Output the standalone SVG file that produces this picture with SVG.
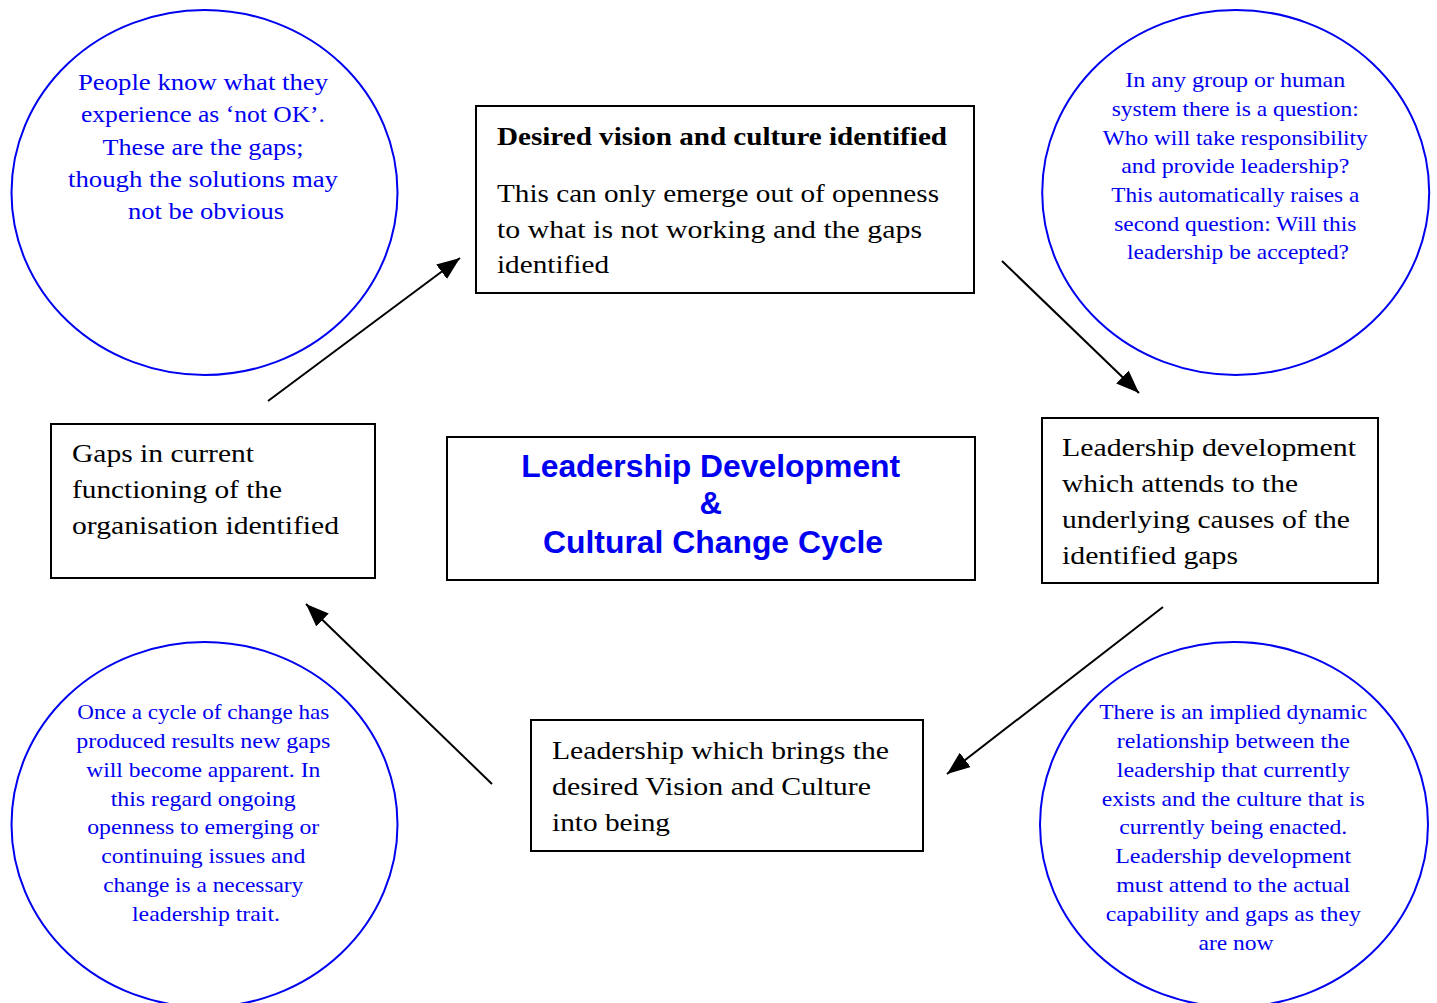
<svg xmlns="http://www.w3.org/2000/svg" width="1437" height="1003" viewBox="0 0 1437 1003">
  <style>
    .box { fill: #ffffff; stroke: #000000; stroke-width: 2; }
    .bubble { fill: #ffffff; stroke: #0000f0; stroke-width: 2; }
    .body { font-family: "Liberation Serif", "Times New Roman", serif; font-size: 26px; fill: #000000; }
    .head { font-family: "Liberation Serif", "Times New Roman", serif; font-size: 26px; font-weight: bold; fill: #000000; }
    .note { font-family: "Liberation Serif", "Times New Roman", serif; font-size: 22px; fill: #0000f0; text-anchor: middle; }
    .note-lg { font-size: 24px; }
    .title { font-family: "Liberation Sans", Arial, sans-serif; font-size: 31px; font-weight: bold; fill: #0000f0; text-anchor: middle; }
    .link { fill: none; stroke: #000000; stroke-width: 2; marker-end: url(#arrow); }
  </style>
  <defs>
    <marker id="arrow" markerUnits="userSpaceOnUse" markerWidth="26" markerHeight="20" refX="23" refY="9" orient="auto">
      <path d="M0,0 L23,9 L0,18 z" fill="#000000"/>
    </marker>
  </defs>

  <rect width="1437" height="1003" fill="#ffffff"/>

  <!-- explanatory bubbles -->
  <g id="note-gaps">
    <ellipse class="bubble" cx="204.5" cy="192.5" rx="193" ry="182.5"/>
    <text class="note note-lg">
      <tspan x="206" y="90" textLength="250" lengthAdjust="spacingAndGlyphs">People know what they</tspan>
      <tspan x="206" y="122.3" textLength="244" lengthAdjust="spacingAndGlyphs">experience as ‘not OK’.</tspan>
      <tspan x="206" y="154.6" textLength="201" lengthAdjust="spacingAndGlyphs">These are the gaps;</tspan>
      <tspan x="206" y="186.9" textLength="270" lengthAdjust="spacingAndGlyphs">though the solutions may</tspan>
      <tspan x="206" y="219.2" textLength="156" lengthAdjust="spacingAndGlyphs">not be obvious</tspan>
    </text>
  </g>

  <g id="note-responsibility">
    <ellipse class="bubble" cx="1235.7" cy="192.5" rx="193.5" ry="182.5"/>
    <text class="note">
      <tspan x="1238" y="87.3" textLength="220" lengthAdjust="spacingAndGlyphs">In any group or human</tspan>
      <tspan x="1238" y="116" textLength="247" lengthAdjust="spacingAndGlyphs">system there is a question:</tspan>
      <tspan x="1238" y="144.6" textLength="265" lengthAdjust="spacingAndGlyphs">Who will take responsibility</tspan>
      <tspan x="1238" y="173.3" textLength="228" lengthAdjust="spacingAndGlyphs">and provide leadership?</tspan>
      <tspan x="1238" y="202" textLength="248" lengthAdjust="spacingAndGlyphs">This automatically raises a</tspan>
      <tspan x="1238" y="230.6" textLength="242" lengthAdjust="spacingAndGlyphs">second question: Will this</tspan>
      <tspan x="1238" y="259.3" textLength="222" lengthAdjust="spacingAndGlyphs">leadership be accepted?</tspan>
    </text>
  </g>

  <g id="note-cycle">
    <ellipse class="bubble" cx="204.5" cy="824.5" rx="193" ry="182.5"/>
    <text class="note">
      <tspan x="206" y="719.3" textLength="252" lengthAdjust="spacingAndGlyphs">Once a cycle of change has</tspan>
      <tspan x="206" y="748.1" textLength="254" lengthAdjust="spacingAndGlyphs">produced results new gaps</tspan>
      <tspan x="206" y="776.8" textLength="234" lengthAdjust="spacingAndGlyphs">will become apparent. In</tspan>
      <tspan x="206" y="805.6" textLength="185" lengthAdjust="spacingAndGlyphs">this regard ongoing</tspan>
      <tspan x="206" y="834.4" textLength="232" lengthAdjust="spacingAndGlyphs">openness to emerging or</tspan>
      <tspan x="206" y="863.2" textLength="204" lengthAdjust="spacingAndGlyphs">continuing issues and</tspan>
      <tspan x="206" y="891.9" textLength="200" lengthAdjust="spacingAndGlyphs">change is a necessary</tspan>
      <tspan x="206" y="920.7" textLength="148" lengthAdjust="spacingAndGlyphs">leadership trait.</tspan>
    </text>
  </g>

  <g id="note-dynamic">
    <ellipse class="bubble" cx="1234" cy="824.5" rx="194" ry="182.5"/>
    <text class="note">
      <tspan x="1236" y="719.3" textLength="268" lengthAdjust="spacingAndGlyphs">There is an implied dynamic</tspan>
      <tspan x="1236" y="748.1" textLength="233" lengthAdjust="spacingAndGlyphs">relationship between the</tspan>
      <tspan x="1236" y="776.8" textLength="233" lengthAdjust="spacingAndGlyphs">leadership that currently</tspan>
      <tspan x="1236" y="805.6" textLength="263" lengthAdjust="spacingAndGlyphs">exists and the culture that is</tspan>
      <tspan x="1236" y="834.4" textLength="228" lengthAdjust="spacingAndGlyphs">currently being enacted.</tspan>
      <tspan x="1236" y="863.2" textLength="236" lengthAdjust="spacingAndGlyphs">Leadership development</tspan>
      <tspan x="1236" y="891.9" textLength="234" lengthAdjust="spacingAndGlyphs">must attend to the actual</tspan>
      <tspan x="1236" y="920.7" textLength="255" lengthAdjust="spacingAndGlyphs">capability and gaps as they</tspan>
      <tspan x="1236" y="949.5" textLength="75" lengthAdjust="spacingAndGlyphs">are now</tspan>
    </text>
  </g>

  <!-- cycle stages -->
  <g id="stage-vision">
    <rect class="box" x="476" y="106" width="498" height="187"/>
    <text class="head" x="497" y="145" textLength="450" lengthAdjust="spacingAndGlyphs">Desired vision and culture identified</text>
    <text class="body">
      <tspan x="497" y="202" textLength="442" lengthAdjust="spacingAndGlyphs">This can only emerge out of openness</tspan>
      <tspan x="497" y="238" textLength="425" lengthAdjust="spacingAndGlyphs">to what is not working and the gaps</tspan>
      <tspan x="497" y="273" textLength="112" lengthAdjust="spacingAndGlyphs">identified</tspan>
    </text>
  </g>

  <g id="stage-leadership-dev">
    <rect class="box" x="1042" y="418" width="336" height="165"/>
    <text class="body">
      <tspan x="1062" y="456" textLength="294" lengthAdjust="spacingAndGlyphs">Leadership development</tspan>
      <tspan x="1062" y="492" textLength="236" lengthAdjust="spacingAndGlyphs">which attends to the</tspan>
      <tspan x="1062" y="528" textLength="288" lengthAdjust="spacingAndGlyphs">underlying causes of the</tspan>
      <tspan x="1062" y="564" textLength="176" lengthAdjust="spacingAndGlyphs">identified gaps</tspan>
    </text>
  </g>

  <g id="stage-into-being">
    <rect class="box" x="531" y="720" width="392" height="131"/>
    <text class="body">
      <tspan x="552" y="759" textLength="337" lengthAdjust="spacingAndGlyphs">Leadership which brings the</tspan>
      <tspan x="552" y="795" textLength="319" lengthAdjust="spacingAndGlyphs">desired Vision and Culture</tspan>
      <tspan x="552" y="831" textLength="118" lengthAdjust="spacingAndGlyphs">into being</tspan>
    </text>
  </g>

  <g id="stage-gaps">
    <rect class="box" x="51" y="424" width="324" height="154"/>
    <text class="body">
      <tspan x="72" y="462" textLength="182" lengthAdjust="spacingAndGlyphs">Gaps in current</tspan>
      <tspan x="72" y="498" textLength="210" lengthAdjust="spacingAndGlyphs">functioning of the</tspan>
      <tspan x="72" y="534" textLength="267" lengthAdjust="spacingAndGlyphs">organisation identified</tspan>
    </text>
  </g>

  <g id="cycle-title">
    <rect class="box" x="447" y="437" width="528" height="143"/>
    <text class="title">
      <tspan x="715" y="477" textLength="379" lengthAdjust="spacingAndGlyphs">Leadership Development</tspan>
      <tspan x="715" y="514">&amp;</tspan>
      <tspan x="713" y="553" textLength="340" lengthAdjust="spacingAndGlyphs">Cultural Change Cycle</tspan>
    </text>
  </g>

  <!-- connectors -->
  <g id="connectors">
    <line class="link" x1="268" y1="401" x2="460" y2="258"/>
    <line class="link" x1="1002" y1="261" x2="1139" y2="393"/>
    <line class="link" x1="1163" y1="607" x2="947" y2="774"/>
    <line class="link" x1="492" y1="784" x2="306" y2="604"/>
  </g>
</svg>
